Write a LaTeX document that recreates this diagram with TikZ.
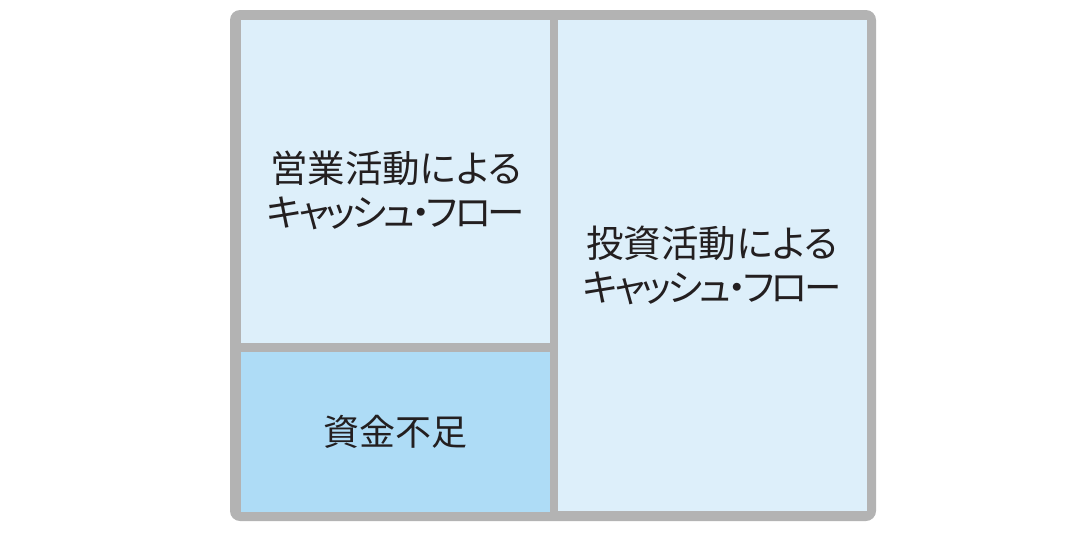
\documentclass[tikz,border=0pt]{standalone}
\usepackage{fontspec}
\newfontfamily\jpfont{Noto Sans CJK JP}[RawFeature=+palt]
\newfontfamily\jpkana{Noto Sans CJK JP}[RawFeature=+palt, LetterSpace=-9]
\usetikzlibrary{positioning}
\definecolor{frame gray}{HTML}{B3B3B3}
\definecolor{pale blue}{HTML}{DDEFFA}
\definecolor{deep blue}{HTML}{AEDCF6}
\definecolor{ink}{HTML}{231F20}
\tikzset{
  cash box/.style 2 args={
    fill=#1,
    inner sep=0pt,
    minimum width=309pt,
    minimum height=#2pt,
  },
  box text/.style={
    font=\jpfont\fontsize{#1}{44}\selectfont,
    text=ink,
    align=center,
  },
  box text/.default=36,
}
\begin{document}
\begin{tikzpicture}[x=1pt, y=-1pt, node distance=8pt]
        \useasboundingbox (0,0) rectangle (1078,533);
        \fill [frame gray, rounded corners=10pt] (230,10) rectangle (876,521);

        \node [cash box={pale blue}{323}, anchor=north west] (op) at (241,20) {};
        \node [cash box={deep blue}{160}, below=of op] (gap) {};
        \node [cash box={pale blue}{491}, right=7pt of op.north east, anchor=north west] (inv) {};

        \node [box text=37.5] (op text) at ([yshift=-9pt]op.center) {営業活動による\\{\jpkana キャッシュ・フロー}};
        \node [box text] (gap text) at (gap.center) {資金不足};
        \node [box text=37.5] (inv text) at (inv.center) {投資活動による\\{\jpkana キャッシュ・フロー}};
      \end{tikzpicture}
\end{document}
